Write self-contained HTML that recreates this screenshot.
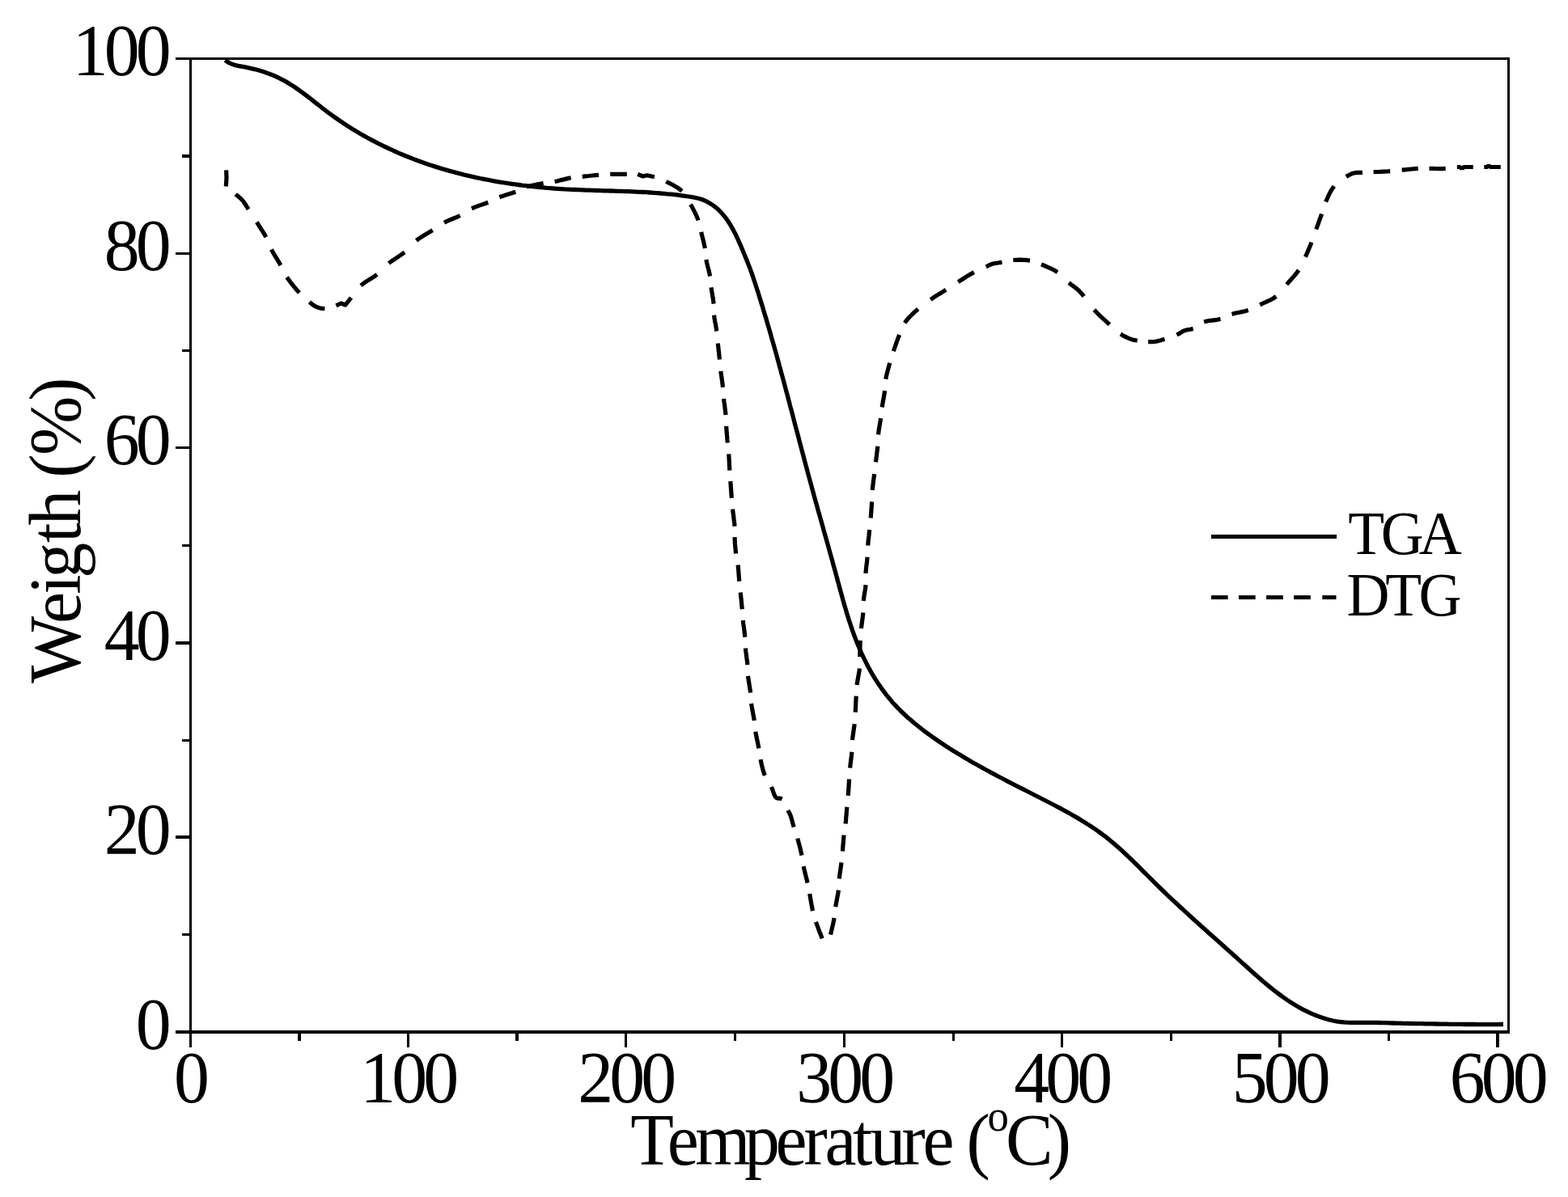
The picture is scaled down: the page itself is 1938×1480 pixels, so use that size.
<!DOCTYPE html>
<html lang="en">
<head>
<meta charset="utf-8">
<title>TGA / DTG curves</title>
<style>
html,body{margin:0;padding:0;background:#fff;}
body{width:1938px;height:1480px;}
svg{display:block;}
</style>
</head>
<body>
<svg width="1938" height="1480" viewBox="0 0 1938 1480">
<rect width="1938" height="1480" fill="#fff"/>
<g stroke="#000" fill="none" stroke-linecap="butt">
<line x1="217" y1="72.5" x2="1866" y2="72.5" stroke-width="3"/>
<line x1="217" y1="1276" x2="1866" y2="1276" stroke-width="4"/>
<line x1="235.5" y1="71" x2="235.5" y2="1295.0" stroke-width="3"/>
<line x1="1864.5" y1="71" x2="1864.5" y2="1278" stroke-width="3"/>
<line x1="370.0" y1="1276" x2="370.0" y2="1287.0" stroke-width="4"/>
<line x1="504.5" y1="1276" x2="504.5" y2="1295.0" stroke-width="3"/>
<line x1="639.0" y1="1276" x2="639.0" y2="1287.0" stroke-width="4"/>
<line x1="773.5" y1="1276" x2="773.5" y2="1295.0" stroke-width="3"/>
<line x1="908.5" y1="1276" x2="908.5" y2="1287.0" stroke-width="3"/>
<line x1="1043.5" y1="1276" x2="1043.5" y2="1295.0" stroke-width="3"/>
<line x1="1178.5" y1="1276" x2="1178.5" y2="1287.0" stroke-width="3"/>
<line x1="1312.5" y1="1276" x2="1312.5" y2="1295.0" stroke-width="3"/>
<line x1="1447.5" y1="1276" x2="1447.5" y2="1287.0" stroke-width="3"/>
<line x1="1582.0" y1="1276" x2="1582.0" y2="1295.0" stroke-width="4"/>
<line x1="1716.5" y1="1276" x2="1716.5" y2="1287.0" stroke-width="3"/>
<line x1="1851.0" y1="1276" x2="1851.0" y2="1295.0" stroke-width="4"/>
<line x1="225.0" y1="1155.5" x2="235.5" y2="1155.5" stroke-width="3"/>
<line x1="217.0" y1="1035.0" x2="235.5" y2="1035.0" stroke-width="4"/>
<line x1="225.0" y1="915.5" x2="235.5" y2="915.5" stroke-width="3"/>
<line x1="217.0" y1="795.0" x2="235.5" y2="795.0" stroke-width="4"/>
<line x1="225.0" y1="674.5" x2="235.5" y2="674.5" stroke-width="3"/>
<line x1="217.0" y1="553.5" x2="235.5" y2="553.5" stroke-width="3"/>
<line x1="225.0" y1="433.5" x2="235.5" y2="433.5" stroke-width="3"/>
<line x1="217.0" y1="313.5" x2="235.5" y2="313.5" stroke-width="3"/>
<line x1="225.0" y1="193.0" x2="235.5" y2="193.0" stroke-width="4"/>
</g>
<path d="M278.2 74.4 L281.9 77.0 L285.8 78.9 L289.9 80.3 L294.1 81.3 L298.5 82.1 L302.8 82.9 L307.1 83.8 L311.5 84.8 L315.8 85.8 L320.0 87.0 L324.3 88.3 L328.5 89.7 L332.6 91.2 L336.7 92.8 L340.8 94.5 L344.7 96.4 L348.6 98.4 L352.5 100.4 L356.2 102.6 L360.0 104.9 L363.6 107.3 L367.2 109.8 L370.8 112.3 L374.3 114.9 L377.8 117.5 L381.3 120.2 L384.8 122.9 L388.2 125.6 L391.7 128.3 L395.2 131.0 L398.6 133.8 L402.1 136.4 L405.6 139.1 L409.2 141.7 L412.7 144.3 L416.3 146.8 L419.9 149.3 L423.6 151.8 L427.2 154.2 L430.9 156.6 L434.7 158.9 L438.4 161.2 L442.2 163.5 L446.0 165.7 L449.8 167.9 L453.6 170.0 L457.4 172.1 L461.3 174.2 L465.2 176.2 L469.1 178.2 L473.1 180.1 L477.0 182.0 L481.0 183.9 L485.0 185.7 L489.0 187.5 L493.0 189.3 L497.0 191.0 L501.1 192.7 L505.1 194.3 L509.2 195.9 L513.3 197.5 L517.4 199.0 L521.5 200.5 L525.7 202.0 L529.8 203.4 L534.0 204.8 L538.1 206.1 L542.3 207.4 L546.5 208.7 L550.7 209.9 L554.9 211.1 L559.2 212.3 L563.4 213.4 L567.6 214.5 L571.9 215.6 L576.1 216.7 L580.4 217.7 L584.7 218.6 L589.0 219.6 L593.3 220.5 L597.6 221.3 L601.9 222.2 L606.2 223.0 L610.5 223.8 L614.8 224.6 L619.1 225.3 L623.5 226.0 L627.8 226.7 L632.2 227.3 L636.5 227.9 L640.9 228.5 L645.2 229.1 L649.6 229.6 L654.0 230.1 L658.4 230.6 L662.7 231.0 L667.1 231.5 L671.5 231.9 L675.9 232.3 L680.3 232.6 L684.6 233.0 L689.0 233.3 L693.4 233.6 L697.8 233.9 L702.2 234.1 L706.6 234.3 L711.0 234.5 L715.4 234.7 L719.8 234.9 L724.2 235.1 L728.6 235.2 L733.0 235.4 L737.4 235.5 L741.7 235.6 L746.1 235.8 L750.5 235.9 L754.9 236.0 L759.3 236.1 L763.7 236.3 L768.1 236.4 L772.5 236.6 L776.9 236.7 L781.2 236.9 L785.6 237.1 L790.0 237.3 L794.4 237.5 L798.7 237.7 L803.1 238.0 L807.5 238.3 L811.9 238.6 L816.2 239.0 L820.6 239.3 L824.9 239.8 L829.3 240.2 L833.7 240.7 L838.0 241.2 L842.4 241.8 L846.7 242.4 L851.0 243.0 L855.4 243.7 L859.7 244.5 L864.0 245.5 L868.1 246.8 L872.2 248.5 L876.1 250.6 L879.8 252.9 L883.4 255.4 L886.8 258.2 L889.9 261.3 L892.9 264.5 L895.7 267.9 L898.4 271.4 L900.8 275.0 L903.1 278.7 L905.3 282.5 L907.4 286.4 L909.4 290.3 L911.3 294.3 L913.1 298.3 L914.8 302.3 L916.6 306.4 L918.3 310.4 L920.0 314.5 L921.6 318.5 L923.3 322.6 L924.9 326.7 L926.5 330.7 L928.0 334.8 L929.5 339.0 L930.9 343.1 L932.3 347.3 L933.7 351.5 L935.0 355.7 L936.4 359.8 L937.7 364.0 L939.0 368.2 L940.3 372.4 L941.6 376.6 L942.9 380.8 L944.1 385.0 L945.4 389.2 L946.7 393.4 L947.9 397.6 L949.1 401.8 L950.4 406.0 L951.6 410.3 L952.8 414.5 L954.0 418.7 L955.2 422.9 L956.4 427.1 L957.6 431.4 L958.8 435.6 L960.0 439.8 L961.1 444.0 L962.3 448.3 L963.4 452.5 L964.6 456.7 L965.7 461.0 L966.9 465.2 L968.0 469.4 L969.2 473.7 L970.3 477.9 L971.4 482.2 L972.6 486.4 L973.7 490.6 L974.8 494.9 L975.9 499.1 L977.0 503.4 L978.2 507.6 L979.3 511.8 L980.4 516.1 L981.5 520.3 L982.6 524.6 L983.7 528.8 L984.8 533.0 L986.0 537.3 L987.1 541.5 L988.2 545.8 L989.3 550.0 L990.4 554.2 L991.5 558.5 L992.7 562.7 L993.8 567.0 L994.9 571.2 L996.0 575.4 L997.2 579.7 L998.3 583.9 L999.4 588.1 L1000.6 592.4 L1001.7 596.6 L1002.9 600.8 L1004.0 605.0 L1005.2 609.3 L1006.3 613.5 L1007.5 617.7 L1008.7 621.9 L1009.9 626.2 L1011.0 630.4 L1012.2 634.6 L1013.4 638.8 L1014.6 643.0 L1015.8 647.3 L1017.0 651.5 L1018.1 655.7 L1019.3 659.9 L1020.5 664.1 L1021.7 668.4 L1022.9 672.6 L1024.1 676.8 L1025.2 681.1 L1026.4 685.3 L1027.6 689.5 L1028.8 693.7 L1029.9 698.0 L1031.1 702.2 L1032.3 706.5 L1033.4 710.7 L1034.6 715.0 L1035.7 719.2 L1036.9 723.5 L1038.0 727.7 L1039.2 732.0 L1040.4 736.2 L1041.5 740.4 L1042.7 744.7 L1043.9 748.9 L1045.2 753.1 L1046.4 757.4 L1047.7 761.6 L1049.0 765.8 L1050.4 769.9 L1051.8 774.1 L1053.2 778.3 L1054.6 782.4 L1056.1 786.5 L1057.7 790.6 L1059.3 794.7 L1061.0 798.7 L1062.7 802.8 L1064.4 806.8 L1066.3 810.8 L1068.1 814.7 L1070.1 818.6 L1072.1 822.5 L1074.1 826.4 L1076.2 830.2 L1078.4 834.0 L1080.6 837.7 L1083.0 841.4 L1085.3 845.0 L1087.8 848.6 L1090.3 852.2 L1092.9 855.7 L1095.5 859.1 L1098.3 862.5 L1101.1 865.9 L1103.9 869.2 L1106.9 872.4 L1109.9 875.6 L1113.0 878.7 L1116.2 881.7 L1119.4 884.7 L1122.6 887.7 L1126.0 890.6 L1129.3 893.5 L1132.8 896.3 L1136.2 899.0 L1139.7 901.8 L1143.2 904.5 L1146.8 907.1 L1150.4 909.7 L1154.0 912.3 L1157.7 914.8 L1161.3 917.3 L1165.0 919.7 L1168.7 922.2 L1172.4 924.6 L1176.1 926.9 L1179.8 929.2 L1183.5 931.5 L1187.3 933.8 L1191.0 936.1 L1194.8 938.3 L1198.5 940.5 L1202.3 942.7 L1206.1 944.8 L1209.9 947.0 L1213.8 949.1 L1217.6 951.2 L1221.4 953.3 L1225.2 955.4 L1229.1 957.4 L1232.9 959.5 L1236.8 961.5 L1240.7 963.5 L1244.6 965.6 L1248.4 967.6 L1252.3 969.6 L1256.2 971.6 L1260.1 973.6 L1264.0 975.5 L1267.9 977.5 L1271.8 979.5 L1275.7 981.5 L1279.6 983.5 L1283.6 985.5 L1287.5 987.5 L1291.4 989.5 L1295.3 991.5 L1299.2 993.5 L1303.1 995.5 L1307.0 997.6 L1310.9 999.7 L1314.8 1001.8 L1318.7 1003.9 L1322.5 1006.0 L1326.3 1008.2 L1330.2 1010.4 L1333.9 1012.6 L1337.7 1014.9 L1341.4 1017.2 L1345.1 1019.6 L1348.8 1022.0 L1352.4 1024.4 L1356.0 1026.9 L1359.6 1029.5 L1363.1 1032.1 L1366.6 1034.7 L1370.0 1037.4 L1373.4 1040.2 L1376.8 1043.0 L1380.1 1045.9 L1383.4 1048.8 L1386.7 1051.7 L1389.9 1054.7 L1393.1 1057.7 L1396.3 1060.8 L1399.5 1063.8 L1402.6 1066.9 L1405.8 1070.0 L1408.9 1073.1 L1412.0 1076.3 L1415.1 1079.4 L1418.2 1082.5 L1421.4 1085.6 L1424.5 1088.7 L1427.6 1091.8 L1430.7 1094.9 L1433.9 1098.0 L1437.0 1101.0 L1440.2 1104.0 L1443.3 1107.1 L1446.5 1110.1 L1449.7 1113.1 L1452.9 1116.0 L1456.1 1119.0 L1459.3 1122.0 L1462.5 1124.9 L1465.7 1127.9 L1468.9 1130.8 L1472.1 1133.7 L1475.4 1136.7 L1478.6 1139.6 L1481.8 1142.5 L1485.1 1145.4 L1488.3 1148.3 L1491.6 1151.2 L1494.8 1154.2 L1498.1 1157.1 L1501.4 1160.0 L1504.6 1162.9 L1507.9 1165.8 L1511.2 1168.7 L1514.5 1171.7 L1517.7 1174.6 L1521.0 1177.5 L1524.3 1180.5 L1527.6 1183.4 L1530.8 1186.4 L1534.1 1189.4 L1537.4 1192.3 L1540.7 1195.3 L1544.0 1198.3 L1547.3 1201.2 L1550.6 1204.2 L1553.9 1207.1 L1557.3 1210.1 L1560.6 1213.0 L1564.0 1215.8 L1567.4 1218.6 L1570.8 1221.4 L1574.3 1224.2 L1577.8 1226.9 L1581.3 1229.5 L1584.8 1232.1 L1588.4 1234.6 L1592.0 1237.1 L1595.6 1239.5 L1599.3 1241.8 L1603.1 1244.0 L1606.8 1246.2 L1610.7 1248.3 L1614.5 1250.2 L1618.5 1252.1 L1622.5 1253.9 L1626.5 1255.5 L1630.6 1257.1 L1634.7 1258.5 L1638.9 1259.8 L1643.2 1261.0 L1647.5 1262.0 L1651.8 1262.8 L1656.2 1263.5 L1660.5 1263.9 L1664.9 1264.2 L1669.3 1264.3 L1673.7 1264.4 L1678.1 1264.4 L1682.5 1264.3 L1686.9 1264.3 L1691.3 1264.3 L1695.6 1264.3 L1700.0 1264.4 L1704.4 1264.5 L1708.8 1264.6 L1713.2 1264.7 L1717.6 1264.9 L1722.0 1265.0 L1726.3 1265.1 L1730.7 1265.2 L1735.1 1265.3 L1739.5 1265.4 L1743.9 1265.5 L1748.3 1265.6 L1752.7 1265.7 L1757.1 1265.7 L1761.4 1265.8 L1765.8 1265.9 L1770.2 1265.9 L1774.6 1266.0 L1779.0 1266.1 L1783.4 1266.1 L1787.8 1266.2 L1792.2 1266.3 L1796.6 1266.3 L1800.9 1266.4 L1805.3 1266.4 L1809.7 1266.5 L1814.1 1266.5 L1818.5 1266.5 L1822.9 1266.5 L1827.3 1266.6 L1831.7 1266.6 L1836.1 1266.6 L1840.4 1266.6 L1844.8 1266.6 L1849.2 1266.6 L1853.6 1266.5 L1858.0 1266.5" fill="none" stroke="#000" stroke-width="5.30" stroke-linejoin="round" stroke-linecap="butt"/>
<path d="M279.6 210.3 L280.0 220.0 L279.3 230.5 M291.2 240.2 L292.9 241.6 L294.6 243.0 L296.3 244.4 L297.9 245.9 L299.5 247.5 L301.1 249.5 L302.6 251.7 L304.1 254.0 L305.5 256.4 L307.1 258.8 M317.4 274.7 L319.7 278.3 L322.1 282.1 L324.5 285.9 L326.8 289.6 L328.8 293.3 M335.4 308.4 L337.5 312.2 L339.8 316.2 L342.3 320.2 L344.7 324.2 L346.9 328.0 M354.6 342.8 L357.3 346.6 L360.3 350.7 L363.6 354.7 L366.8 358.5 L370.0 362.0 M382.4 373.4 L384.1 374.8 L385.7 376.1 L387.3 377.3 L388.9 378.3 L390.7 379.2 L392.7 380.0 L394.8 380.7 L396.9 381.2 L399.1 381.5 L401.4 381.6 M415.4 377.9 L421.6 375.0 L426.8 377.1 L434.0 368.2 M446.0 353.1 L449.6 350.2 L453.7 347.4 L458.0 344.8 L462.2 342.1 L466.0 339.3 M480.5 325.5 L484.2 322.7 L488.2 320.1 L492.3 317.4 L496.3 314.7 L500.0 311.9 M514.5 297.4 L518.3 294.6 L522.4 292.0 L526.6 289.4 L530.8 287.0 L534.7 284.6 M549.0 275.3 L552.7 273.4 L556.7 271.7 L560.8 270.0 L564.8 268.3 L568.6 266.5 M583.0 257.8 L586.9 256.1 L591.0 254.6 L595.3 253.1 L599.4 251.7 L603.3 250.2 M617.3 243.8 L621.1 242.4 L625.2 241.1 L629.4 239.8 L633.5 238.5 L637.3 237.2 M651.0 231.1 L654.9 230.0 L659.1 229.0 L663.4 228.1 L667.7 227.3 L671.6 226.6 M685.6 224.5 L689.5 223.7 L693.6 222.6 L697.7 221.6 L701.8 220.6 L705.7 219.8 M719.7 218.3 L723.6 217.9 L727.8 217.5 L732.0 217.0 L736.2 216.6 L740.1 216.3 M754.2 215.4 L758.1 215.3 L762.4 215.3 L766.7 215.3 L770.9 215.4 L774.8 215.4 M788.2 215.4 L794.6 218.0 L799.6 216.8 L808.9 218.8 M823.3 224.5 L827.2 226.4 L831.4 228.5 L835.6 230.9 L839.5 233.5 L842.9 236.3 M853.6 252.8 L855.7 256.6 L857.8 260.6 L859.8 264.6 L861.6 268.6 L863.1 272.4 M866.6 286.9 L867.6 290.8 L868.6 294.9 L869.7 299.1 L870.6 303.2 L871.4 307.1 M872.8 320.9 L873.6 324.8 L874.6 329.1 L875.8 333.4 L876.8 337.7 L877.6 341.6 M879.0 355.4 L879.6 359.3 L880.3 363.4 L881.0 367.6 L881.6 371.7 L882.1 375.6 M882.5 389.6 L883.0 393.4 L883.7 397.5 L884.5 401.6 L885.2 405.6 L885.8 409.5 M887.3 424.4 L887.7 428.3 L888.1 432.3 L888.6 436.5 L889.0 440.6 L889.4 444.4 M890.8 458.8 L891.3 462.6 L891.9 466.7 L892.5 470.9 L893.0 475.0 L893.5 478.8 M894.6 492.9 L895.0 496.8 L895.6 500.9 L896.1 505.1 L896.6 509.2 L897.0 513.1 M897.6 526.9 L897.9 530.8 L898.2 535.1 L898.6 539.4 L898.9 543.7 L899.3 547.6 M900.7 561.4 L901.0 565.3 L901.2 569.4 L901.4 573.6 L901.6 577.8 L901.8 581.6 M902.8 595.0 L903.1 598.9 L903.4 603.2 L903.7 607.5 L904.0 611.8 L904.3 615.7 M905.5 629.5 L906.0 633.5 L906.6 637.9 L907.1 642.4 L907.7 646.8 L908.0 650.8 M908.0 664.2 L908.2 668.1 L908.4 672.2 L908.8 676.5 L909.2 680.6 L909.6 684.5 M912.1 698.6 L912.5 702.5 L912.8 706.6 L913.1 710.8 L913.4 714.9 L913.7 718.8 M915.2 732.6 L915.6 736.5 L916.1 740.8 L916.5 745.1 L916.9 749.4 L917.3 753.3 M918.3 767.1 L918.7 771.0 L919.3 775.2 L919.9 779.6 L920.4 783.8 L920.8 787.7 M921.4 801.4 L921.8 805.3 L922.4 809.5 L922.9 813.9 L923.5 818.1 L923.9 822.0 M924.5 835.8 L925.0 839.7 L925.7 844.0 L926.4 848.3 L927.1 852.6 L927.6 856.5 M928.6 869.9 L929.2 873.9 L930.0 878.2 L930.8 882.6 L931.6 886.9 L932.3 890.9 M933.8 904.6 L934.5 908.5 L935.3 912.7 L936.3 917.1 L937.1 921.3 L937.9 925.2 M940.0 939.0 L940.8 942.8 L941.7 946.9 L942.8 951.0 L943.9 955.0 L945.3 958.8 M953.3 973.0 L954.6 975.9 L955.7 979.0 L956.7 982.0 L958.0 984.6 L959.5 986.4 L960.8 987.0 L962.3 987.2 L963.8 987.1 L965.3 987.3 L966.7 987.9 M973.9 1001.9 L974.6 1003.3 L975.2 1004.4 L975.8 1005.5 L976.4 1006.7 L977.0 1008.1 L977.8 1010.6 L978.7 1013.5 L979.4 1016.5 L980.3 1019.6 L981.1 1022.6 M985.7 1036.6 L986.8 1040.6 L988.0 1044.9 L989.1 1049.3 L990.1 1053.6 L991.0 1057.6 M993.1 1071.1 L994.0 1075.0 L995.0 1079.2 L996.1 1083.6 L997.2 1087.8 L998.1 1091.7 M1000.7 1105.1 L1001.4 1109.1 L1002.1 1113.4 L1002.9 1117.9 L1003.7 1122.2 L1004.5 1126.2 M1008.4 1139.8 L1009.8 1143.7 L1011.3 1147.7 L1012.9 1152.0 L1014.6 1156.2 L1016.2 1160.4 M1026.5 1155.7 L1027.5 1151.5 L1028.5 1147.2 L1029.5 1143.0 L1030.4 1138.9 L1031.1 1135.0 M1032.7 1121.2 L1033.4 1117.3 L1034.2 1113.1 L1035.0 1108.8 L1035.8 1104.5 L1036.4 1100.6 M1037.3 1086.5 L1037.7 1082.6 L1038.3 1078.5 L1038.9 1074.3 L1039.5 1070.2 L1040.0 1066.3 M1041.4 1052.5 L1041.7 1048.7 L1042.0 1044.6 L1042.4 1040.4 L1042.7 1036.3 L1043.1 1032.5 M1045.1 1018.4 L1045.5 1014.5 L1045.8 1010.3 L1046.2 1005.9 L1046.5 1001.7 L1046.8 997.8 M1048.2 983.8 L1048.5 979.9 L1048.8 975.7 L1049.1 971.5 L1049.3 967.3 L1049.6 963.4 M1050.6 949.6 L1051.0 945.8 L1051.5 941.8 L1052.0 937.6 L1052.5 933.6 L1052.9 929.7 M1053.5 914.9 L1053.9 911.1 L1054.5 907.0 L1055.1 902.9 L1055.7 898.9 L1056.2 895.1 M1057.2 880.6 L1057.4 876.7 L1057.6 872.7 L1057.8 868.5 L1058.0 864.4 L1058.2 860.6 M1059.1 846.8 L1059.7 842.9 L1060.4 838.8 L1061.2 834.6 L1061.9 830.4 L1062.4 826.5 M1062.8 812.1 L1062.9 808.2 L1062.9 804.1 L1063.0 799.9 L1063.1 795.8 L1063.2 791.9 M1064.4 777.0 L1064.9 773.2 L1065.4 769.2 L1066.0 765.2 L1066.5 761.2 L1066.9 757.4 M1067.3 743.0 L1067.7 739.2 L1068.3 735.2 L1069.0 731.1 L1069.6 727.1 L1070.0 723.3 M1070.0 708.9 L1070.3 705.0 L1070.7 700.9 L1071.3 696.7 L1071.7 692.6 L1072.1 688.7 M1072.7 674.5 L1073.0 670.7 L1073.4 666.7 L1073.9 662.7 L1074.3 658.7 L1074.7 654.9 M1076.2 640.5 L1076.5 636.6 L1076.8 632.5 L1077.1 628.4 L1077.4 624.3 L1077.6 620.4 M1078.2 606.0 L1078.6 602.2 L1079.1 598.2 L1079.6 594.1 L1080.2 590.0 L1080.7 586.2 M1082.4 571.3 L1082.9 567.5 L1083.4 563.5 L1083.9 559.5 L1084.4 555.5 L1084.8 551.7 M1085.5 537.3 L1086.0 533.4 L1086.6 529.3 L1087.3 525.1 L1088.0 521.0 L1088.6 517.2 M1090.2 503.5 L1090.8 499.6 L1091.5 495.5 L1092.3 491.2 L1093.0 487.0 L1093.6 483.1 M1094.8 468.7 L1095.5 464.8 L1096.5 460.8 L1097.6 456.6 L1098.7 452.5 L1099.8 448.7 M1104.4 434.2 L1105.7 430.3 L1107.1 426.2 L1108.6 422.0 L1110.1 417.9 L1111.6 414.0 M1118.2 399.2 L1120.9 395.6 L1124.1 392.0 L1127.6 388.5 L1131.2 385.1 L1134.7 382.0 M1150.2 370.3 L1153.9 367.8 L1157.7 365.4 L1161.6 363.0 L1165.5 360.6 L1169.2 358.3 M1184.2 348.6 L1188.0 346.2 L1191.9 343.7 L1196.0 341.1 L1200.0 338.7 L1203.8 336.6 M1218.7 329.8 L1220.4 329.0 L1221.9 328.2 L1223.4 327.5 L1224.9 326.9 L1226.6 326.3 L1228.8 325.7 L1231.1 325.3 L1233.5 325.0 L1236.0 324.6 L1238.5 324.2 M1252.3 321.5 L1256.2 321.3 L1260.5 321.2 L1264.8 321.3 L1269.1 321.7 L1273.0 322.2 M1287.0 326.9 L1290.9 328.5 L1295.0 330.3 L1299.2 332.2 L1303.3 334.3 L1307.0 336.6 M1321.1 349.6 L1323.5 351.6 L1326.0 353.4 L1328.4 355.1 L1330.7 356.9 L1332.8 358.7 L1334.3 360.2 L1335.6 361.7 L1336.9 363.1 L1338.2 364.7 L1339.6 366.5 M1352.4 383.1 L1355.9 386.8 L1359.8 390.6 L1363.8 394.3 L1367.7 397.9 L1371.4 401.2 M1385.0 413.0 L1387.2 414.4 L1389.3 415.6 L1391.5 416.7 L1393.6 417.7 L1395.8 418.6 L1397.8 419.3 L1399.7 419.9 L1401.6 420.4 L1403.6 420.8 L1405.7 421.2 M1419.1 422.7 L1421.0 422.7 L1422.7 422.7 L1424.5 422.7 L1426.2 422.5 L1428.0 422.3 L1430.2 421.9 L1432.4 421.3 L1434.7 420.7 L1437.1 419.9 L1439.5 419.2 M1454.4 414.0 L1456.6 412.9 L1458.7 411.7 L1460.7 410.4 L1462.7 409.3 L1464.8 408.4 L1466.8 407.9 L1468.7 407.5 L1470.7 407.3 L1472.7 406.9 L1474.7 406.3 M1488.1 398.1 L1491.9 397.0 L1496.1 396.3 L1500.4 395.8 L1504.6 395.3 L1508.5 394.4 M1522.6 388.4 L1526.4 387.3 L1530.6 386.5 L1534.8 385.6 L1539.0 384.7 L1542.8 383.6 M1557.2 376.8 L1561.1 375.0 L1565.3 373.1 L1569.6 371.2 L1573.6 369.0 L1577.3 366.5 M1590.3 351.6 L1593.3 348.2 L1596.4 344.8 L1599.6 341.2 L1602.5 337.7 L1605.1 334.1 M1613.4 317.6 L1615.0 314.1 L1616.6 310.4 L1618.1 306.8 L1619.6 303.2 L1621.0 299.6 M1626.8 283.5 L1628.1 279.8 L1629.5 275.9 L1630.9 272.0 L1632.3 268.2 L1633.6 264.5 M1638.6 249.5 L1640.3 245.7 L1642.1 241.6 L1644.1 237.6 L1646.4 233.7 L1648.9 230.3 M1663.9 218.5 L1665.8 217.3 L1667.7 216.3 L1669.5 215.4 L1671.3 214.6 L1673.2 214.0 L1675.3 213.6 L1677.4 213.4 L1679.5 213.4 L1681.7 213.4 L1684.0 213.3 M1697.6 212.7 L1701.5 212.5 L1705.7 212.4 L1710.0 212.2 L1714.2 212.0 L1718.2 211.7 M1732.7 210.2 L1736.6 209.8 L1740.6 209.4 L1744.8 209.0 L1748.9 208.6 L1752.7 208.4 M1766.5 208.4 L1770.4 208.4 L1774.5 208.5 L1778.7 208.6 L1782.8 208.6 L1786.7 208.4 M1800.8 206.5 L1804.2 206.5 L1805.6 207.6 L1808.2 207.6 L1809.6 206.5 L1820.8 206.5 M1834.3 206.5 L1837.6 206.5 L1838.8 205.5 L1841.2 205.5 L1842.4 206.5 L1854.8 206.5" fill="none" stroke="#000" stroke-width="5.20" stroke-linejoin="round" stroke-linecap="butt"/>
<line x1="1497" y1="663.4" x2="1652" y2="663.4" stroke="#000" stroke-width="5.00"/>
<line x1="1497.0" y1="738.6" x2="1517.6" y2="738.6" stroke="#000" stroke-width="5.00"/>
<line x1="1531.0" y1="738.6" x2="1551.7" y2="738.6" stroke="#000" stroke-width="5.00"/>
<line x1="1565.1" y1="738.6" x2="1585.8" y2="738.6" stroke="#000" stroke-width="5.00"/>
<line x1="1599.2" y1="738.6" x2="1619.9" y2="738.6" stroke="#000" stroke-width="5.00"/>
<line x1="1634.3" y1="738.6" x2="1651.5" y2="738.6" stroke="#000" stroke-width="5.00"/>
<g font-family="'Liberation Serif', 'Times New Roman', serif" fill="#000" stroke="none" stroke-width="0.00" stroke-linejoin="round" style="font-kerning:none">
<text transform="translate(0,1296.90) scale(0.9650,1)" xml:space="preserve"><tspan x="173.82" y="0.00" font-size="91.00">0</tspan></text>
<text transform="translate(0,1055.90) scale(0.9650,1)" xml:space="preserve"><tspan x="133.37 173.82" y="0.00" font-size="91.00">20</tspan></text>
<text transform="translate(0,815.90) scale(0.9650,1)" xml:space="preserve"><tspan x="133.37 173.82" y="0.00" font-size="91.00">40</tspan></text>
<text transform="translate(0,574.40) scale(0.9650,1)" xml:space="preserve"><tspan x="133.37 173.82" y="0.00" font-size="91.00">60</tspan></text>
<text transform="translate(0,334.40) scale(0.9650,1)" xml:space="preserve"><tspan x="133.37 173.82" y="0.00" font-size="91.00">80</tspan></text>
<text transform="translate(0,93.40) scale(0.9650,1)" xml:space="preserve"><tspan x="92.91 133.37 173.82" y="0.00" font-size="91.00">100</tspan></text>
<text transform="translate(0,1363.00) scale(0.9650,1)" xml:space="preserve"><tspan x="222.73" y="0.00" font-size="91.00">0</tspan></text>
<text transform="translate(0,1363.00) scale(0.9650,1)" xml:space="preserve"><tspan x="461.30 501.76 542.21" y="0.00" font-size="91.00">100</tspan></text>
<text transform="translate(0,1363.00) scale(0.9650,1)" xml:space="preserve"><tspan x="740.06 780.52 820.97" y="0.00" font-size="91.00">200</tspan></text>
<text transform="translate(0,1363.00) scale(0.9650,1)" xml:space="preserve"><tspan x="1019.85 1060.31 1100.76" y="0.00" font-size="91.00">300</tspan></text>
<text transform="translate(0,1363.00) scale(0.9650,1)" xml:space="preserve"><tspan x="1298.61 1339.07 1379.52" y="0.00" font-size="91.00">400</tspan></text>
<text transform="translate(0,1363.00) scale(0.9650,1)" xml:space="preserve"><tspan x="1577.88 1618.34 1658.79" y="0.00" font-size="91.00">500</tspan></text>
<text transform="translate(0,1363.00) scale(0.9650,1)" xml:space="preserve"><tspan x="1856.64 1897.10 1937.55" y="0.00" font-size="91.00">600</tspan></text>
<text transform="translate(98.70,844.60) rotate(-90) scale(0.9760,1)" xml:space="preserve"><tspan x="-0.09 75.42 112.46 133.15 177.75 199.98 239.46 259.98 288.66 357.35" y="0.00" font-size="90.00">Weigth (%)</tspan></text>
<text transform="translate(0,1439.50) scale(0.9760,1)" xml:space="preserve"><tspan x="798.37 845.08 880.50 942.58 981.97 1017.91 1044.49 1079.91 1102.08 1141.99 1168.57 1203.99 1223.94" y="0.00" font-size="90.00">Temperature (</tspan><tspan x="1250.52" y="-41.50" font-size="54.00">o</tspan><tspan x="1273.44 1326.67" y="0.00" font-size="90.00">C)</tspan></text>
<text transform="translate(0,684.90) scale(0.9650,1)" xml:space="preserve"><tspan x="1726.81 1768.61 1817.41" y="0.00" font-size="76.00">TGA</tspan></text>
<text transform="translate(0,760.60) scale(0.9650,1)" xml:space="preserve"><tspan x="1724.96 1774.28 1817.11" y="0.00" font-size="76.00">DTG</tspan></text>
</g>
</svg>
</body>
</html>
